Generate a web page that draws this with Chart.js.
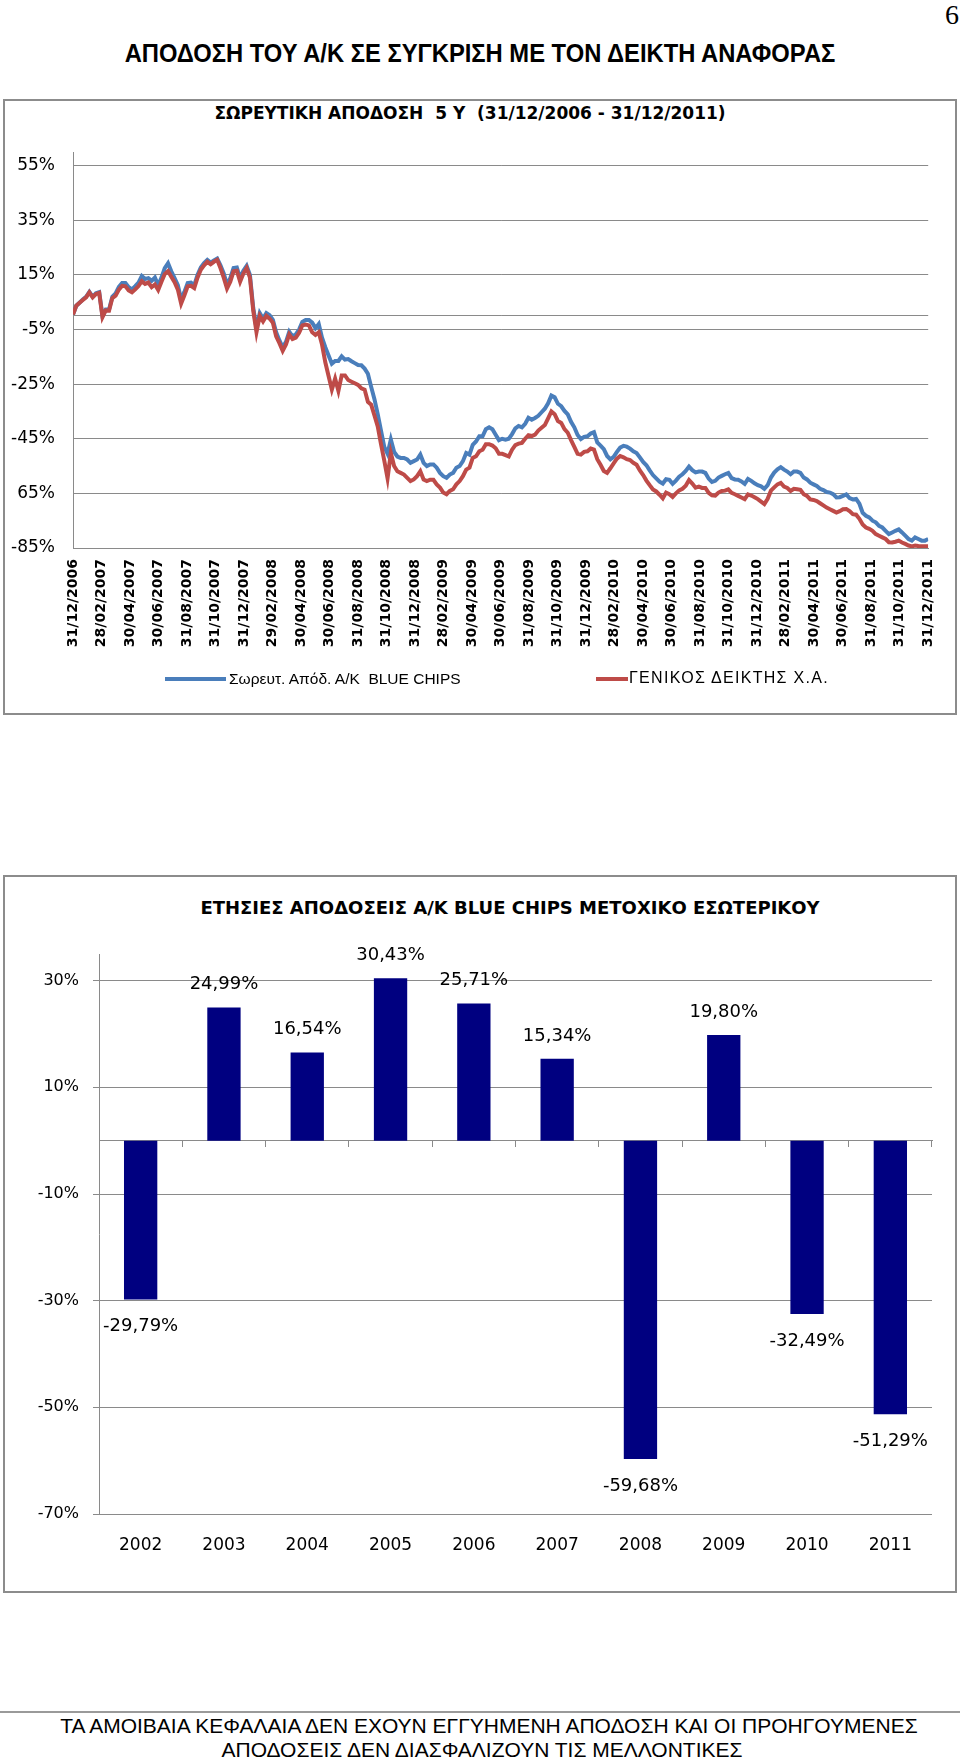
<!DOCTYPE html>
<html><head><meta charset="utf-8">
<script src="https://cdn.jsdelivr.net/npm/chart.js@4.4.1/dist/chart.umd.min.js"></script>
<style>
html,body{margin:0;padding:0;background:#fff;}
body{width:960px;height:1761px;position:relative;overflow:hidden;font-family:"Liberation Sans",Arial,sans-serif;color:#000;}
.abs{position:absolute;white-space:pre;}
.box{position:absolute;border:2px solid #8c8c8c;box-sizing:border-box;}
canvas{position:absolute;}
</style></head>
<body>
<div class="abs" id="pagenum" style="left:945px;top:1px;font-family:'Liberation Serif',serif;font-size:28px;line-height:28px;">6</div>
<div class="abs" style="left:0;width:960px;top:40px;text-align:center;font-weight:bold;font-size:25px;line-height:26px;transform:scaleX(0.95);transform-origin:480px 0;">ΑΠΟΔΟΣΗ ΤΟΥ Α/Κ ΣΕ ΣΥΓΚΡΙΣΗ ΜΕ ΤΟΝ ΔΕΙΚΤΗ ΑΝΑΦΟΡΑΣ</div>

<div class="box" style="left:3px;top:99px;width:954px;height:616px;"></div>
<div class="abs" style="left:0;width:940px;top:104px;text-align:center;font-family:'DejaVu Sans',sans-serif;font-weight:bold;font-size:17px;line-height:18px;">ΣΩΡΕΥΤΙΚΗ ΑΠΟΔΟΣΗ  5 Y  (31/12/2006 - 31/12/2011)</div>
<canvas id="c1" width="952" height="614" style="left:4px;top:100px;"></canvas>
<div class="abs" style="left:165px;top:677px;width:61px;height:4px;background:#4a7ebb;"></div>
<div class="abs" style="left:229px;top:670px;font-size:15.5px;line-height:17px;">Σωρευτ. Απόδ. Α/Κ  BLUE CHIPS</div>
<div class="abs" style="left:596px;top:677px;width:32px;height:4px;background:#be4b48;"></div>
<div class="abs" style="left:629px;top:669px;font-size:16px;line-height:18px;letter-spacing:1.3px;">ΓΕΝΙΚΟΣ ΔΕΙΚΤΗΣ Χ.Α.</div>

<div class="box" style="left:3px;top:875px;width:954px;height:718px;"></div>
<div class="abs" style="left:0;width:1020px;top:898px;text-align:center;font-family:'DejaVu Sans',sans-serif;font-weight:bold;font-size:18px;line-height:19px;">ΕΤΗΣΙΕΣ ΑΠΟΔΟΣΕΙΣ Α/Κ BLUE CHIPS ΜΕΤΟΧΙΚΟ ΕΣΩΤΕΡΙΚΟΥ</div>
<canvas id="c2" width="952" height="716" style="left:4px;top:876px;"></canvas>

<div class="abs" style="left:0;top:1711px;width:960px;height:2px;background:#9a9a9a;"></div>
<div class="abs" style="left:9px;width:960px;top:1715px;text-align:center;font-size:21px;line-height:22px;">ΤΑ ΑΜΟΙΒΑΙΑ ΚΕΦΑΛΑΙΑ ΔΕΝ ΕΧΟΥΝ ΕΓΓΥΗΜΕΝΗ ΑΠΟΔΟΣΗ ΚΑΙ ΟΙ ΠΡΟΗΓΟΥΜΕΝΕΣ</div>
<div class="abs" style="left:2px;width:960px;top:1739px;text-align:center;font-size:21px;line-height:22px;">ΑΠΟΔΟΣΕΙΣ ΔΕΝ ΔΙΑΣΦΑΛΙΖΟΥΝ ΤΙΣ ΜΕΛΛΟΝΤΙΚΕΣ</div>

<script>
// ---- Chart 1 data ----
const dateLabels = ['31/12/2006','28/02/2007','30/04/2007','30/06/2007','31/08/2007','31/10/2007','31/12/2007','29/02/2008','30/04/2008','30/06/2008','31/08/2008','31/10/2008','31/12/2008','28/02/2009','30/04/2009','30/06/2009','31/08/2009','31/10/2009','31/12/2009','28/02/2010','30/04/2010','30/06/2010','31/08/2010','31/10/2010','31/12/2010','28/02/2011','30/04/2011','30/06/2011','31/08/2011','31/10/2011','31/12/2011'];
const yTickValues = [-85,-65,-45,-25,-5,15,35,55];
const yTickLabels = ['-85%','65%','-45%','-25%','-5%','15%','35%','55%'];
const fundLabel = 'Σωρευτ. Απόδ. Α/Κ  BLUE CHIPS';
const indexLabel = 'ΓΕΝΙΚΟΣ ΔΕΙΚΤΗΣ Χ.Α.';
const fundValues = [0.5,3.7,4.8,6.0,7.0,8.8,7.0,8.3,8.7,0.0,
 2.3,2.3,7.0,8.2,10.6,12.0,12.0,10.5,9.7,10.9,
 12.2,14.6,13.5,13.8,12.8,14.0,11.2,14.0,17.5,19.3,
 16.3,13.8,11.2,6.0,8.8,12.0,12.2,11.2,15.0,17.7,
 19.3,20.5,19.5,20.3,21.0,18.5,15.5,11.5,13.8,17.5,
 17.7,13.8,16.5,18.3,15.0,3.0,-4.5,1.0,-1.0,1.0,
 0.2,-1.5,-6.0,-9.0,-11.5,-9.5,-5.8,-7.5,-6.8,-5.0,
 -2.2,-1.5,-1.5,-2.5,-4.5,-3.0,-8.0,-11.5,-14.5,-17.5,
 -16.5,-16.5,-14.8,-16.0,-15.8,-16.6,-17.3,-18.0,-18.1,-19.3,
 -21.2,-26.0,-30.5,-36.0,-42.0,-48.0,-50.5,-45.3,-49.8,-51.5,
 -52.0,-52.0,-52.6,-53.8,-53.2,-52.6,-50.8,-53.8,-55.0,-54.4,
 -54.4,-55.6,-57.5,-58.7,-59.3,-58.1,-57.5,-55.6,-55.0,-53.2,
 -50.2,-50.8,-47.2,-46.0,-44.1,-44.1,-41.5,-40.8,-41.5,-43.5,
 -45.5,-45.0,-45.3,-45.0,-43.3,-41.2,-40.3,-40.8,-39.5,-37.3,
 -38.0,-37.4,-36.6,-35.3,-34.0,-32.0,-29.2,-29.8,-32.2,-33.1,
 -34.8,-36.1,-38.8,-40.8,-43.6,-45.1,-44.3,-44.1,-43.1,-42.6,
 -46.3,-47.5,-48.8,-51.3,-52.5,-51.6,-49.8,-48.2,-47.6,-47.9,
 -48.6,-49.6,-50.2,-51.8,-53.5,-54.7,-56.6,-58.3,-59.5,-60.7,
 -61.4,-59.8,-60.0,-61.5,-60.3,-58.9,-58.0,-56.8,-55.2,-56.5,
 -57.3,-57.0,-57.0,-57.5,-59.6,-60.8,-60.4,-59.2,-58.6,-58.0,
 -57.5,-59.4,-59.9,-60.0,-60.6,-61.5,-59.7,-60.4,-61.3,-62.0,
 -62.4,-63.3,-62.0,-59.2,-57.4,-56.2,-55.4,-56.3,-57.0,-58.0,
 -57.0,-57.0,-57.5,-59.2,-59.9,-61.1,-61.7,-62.3,-63.3,-63.8,
 -64.5,-64.7,-65.3,-66.5,-66.4,-65.9,-65.4,-66.7,-67.2,-67.0,
 -68.8,-72.1,-73.2,-73.8,-75.0,-75.6,-76.9,-77.5,-78.7,-79.9,
 -79.3,-78.7,-78.2,-79.3,-80.5,-81.7,-82.3,-81.1,-81.7,-82.3,
 -82.3,-81.7];
const indexValues = [0.5,3.7,4.8,5.8,6.8,8.6,6.8,8.0,8.4,-0.5,
 2.0,1.9,6.5,7.4,9.6,11.0,10.8,9.3,8.6,9.7,
 10.9,12.7,11.7,12.2,10.5,11.5,9.5,12.5,15.3,16.4,
 14.3,12.3,9.6,4.5,7.5,10.8,11.0,10.2,14.0,16.9,
 18.5,19.8,18.9,19.8,20.5,17.5,14.0,10.0,12.5,16.3,
 16.5,12.5,15.5,17.5,14.0,2.0,-6.0,0.0,-2.0,0.0,
 -1.0,-2.5,-7.5,-10.0,-12.8,-10.5,-6.8,-8.5,-8.0,-6.2,
 -3.5,-3.2,-3.5,-6.0,-7.0,-6.0,-10.5,-17.0,-22.0,-27.0,
 -23.0,-27.5,-21.8,-21.8,-23.5,-24.1,-24.7,-25.3,-26.5,-27.0,
 -31.5,-32.5,-36.5,-40.5,-47.0,-53.0,-59.5,-50.2,-55.0,-56.9,
 -57.5,-58.1,-59.3,-60.5,-59.9,-58.7,-56.9,-59.9,-60.5,-60.0,
 -60.0,-61.7,-62.9,-64.7,-65.3,-64.1,-63.5,-61.7,-60.5,-58.7,
 -56.3,-55.6,-52.0,-51.4,-49.6,-49.0,-47.0,-47.0,-47.5,-48.5,
 -50.5,-50.5,-51.0,-51.5,-49.0,-47.3,-46.8,-46.5,-45.0,-43.7,
 -44.0,-43.5,-42.0,-41.0,-40.0,-37.5,-35.0,-36.0,-38.5,-39.2,
 -41.5,-42.8,-45.5,-48.0,-50.5,-50.8,-49.8,-49.6,-48.6,-49.0,
 -52.5,-54.5,-56.8,-57.5,-55.8,-54.0,-52.3,-51.3,-51.8,-52.5,
 -52.8,-53.8,-54.5,-56.6,-58.3,-60.3,-62.0,-63.6,-64.3,-65.5,
 -66.8,-64.7,-65.3,-66.3,-65.0,-63.9,-63.3,-62.2,-60.1,-61.4,
 -62.9,-62.5,-63.0,-63.0,-64.8,-65.7,-65.8,-64.7,-64.1,-64.0,
 -63.5,-64.8,-65.3,-65.9,-66.5,-67.1,-65.4,-65.8,-66.4,-67.1,
 -68.0,-68.9,-67.0,-64.0,-62.8,-61.7,-61.2,-62.5,-63.0,-64.1,
 -63.3,-63.5,-63.7,-65.3,-65.9,-67.2,-67.4,-67.8,-68.6,-69.4,
 -70.2,-70.8,-71.4,-72.0,-71.5,-70.8,-70.7,-71.5,-72.6,-72.8,
 -74.3,-76.4,-77.5,-78.0,-78.7,-79.9,-80.5,-81.1,-81.7,-82.9,
 -83.0,-82.7,-82.3,-83.0,-83.5,-84.1,-84.4,-84.1,-84.3,-84.4,
 -84.4,-84.4];

// ---- Chart 2 data ----
const years = ['2002','2003','2004','2005','2006','2007','2008','2009','2010','2011'];
const annualReturns = [-29.79,24.99,16.54,30.43,25.71,15.34,-59.68,19.80,-32.49,-51.29];
const barTickValues = [-70,-50,-30,-10,10,30];
const barTickLabels = ['-70%','-50%','-30%','-10%','10%','30%'];

const GRID = '#8a8a8a';
const MONTHS = 60;
const toXY = arr => arr.map((v, k) => ({x: k * MONTHS / (arr.length - 1), y: v}));

new Chart(document.getElementById('c1'), {
  type: 'line',
  data: {datasets: [
    {label: fundLabel, data: toXY(fundValues), borderColor: '#4a7ebb', backgroundColor: '#4a7ebb', borderWidth: 4, pointRadius: 0, tension: 0, order: 1},
    {label: indexLabel, data: toXY(indexValues), borderColor: '#be4b48', backgroundColor: '#be4b48', borderWidth: 4, pointRadius: 0, tension: 0, order: 0}
  ]},
  options: {
    responsive: false, animation: false, devicePixelRatio: 1,
    layout: {padding: {top: 52, right: 14, bottom: 60, left: 0}},
    plugins: {legend: {display: false}, tooltip: {enabled: false}},
    scales: {
      x: {type: 'linear', min: 0, max: MONTHS,
        afterBuildTicks: s => { s.ticks = dateLabels.map((_, i) => ({value: i * 2})); },
        afterFit: s => { s.height = 106; },
        grid: {display: false, drawTicks: false},
        border: {display: true, color: GRID, width: 1},
        ticks: {autoSkip: false, maxRotation: 90, minRotation: 90, padding: 11, color: '#000',
          font: {family: 'DejaVu Sans', size: 14, weight: 'bold'},
          callback: (v, i) => dateLabels[i]}
      },
      y: {type: 'linear', min: -85, max: 60,
        afterBuildTicks: s => { s.ticks = yTickValues.concat([0]).sort((a, b) => a - b).map(v => ({value: v})); },
        afterFit: s => { s.width = 69; },
        grid: {color: GRID, lineWidth: 1, drawTicks: false},
        border: {display: true, color: GRID, width: 1},
        ticks: {padding: 18, color: '#000', font: {family: 'DejaVu Sans', size: 17},
          callback: v => { const i = yTickValues.indexOf(v); return i < 0 ? '' : yTickLabels[i]; }}
      }
    }
  }
});

const fmtPct = v => v.toFixed(2).replace('.', ',') + '%';
const barLabelPlugin = {
  id: 'barLabels',
  afterDatasetsDraw(chart) {
    const ctx = chart.ctx;
    const meta = chart.getDatasetMeta(0);
    ctx.save();
    ctx.font = '18px "DejaVu Sans"';
    ctx.fillStyle = '#000';
    ctx.textAlign = 'center';
    ctx.textBaseline = 'middle';
    meta.data.forEach((bar, i) => {
      const v = annualReturns[i];
      ctx.fillText(fmtPct(v), bar.x, v >= 0 ? bar.y - 23 : bar.y + 27);
    });
    ctx.restore();
  }
};

new Chart(document.getElementById('c2'), {
  type: 'bar',
  data: {labels: years, datasets: [{data: annualReturns, backgroundColor: '#000080', barPercentage: 0.4, categoryPercentage: 1.0}]},
  options: {
    responsive: false, animation: false, devicePixelRatio: 1,
    layout: {padding: {top: 78, right: 24, bottom: 20, left: 0}},
    plugins: {legend: {display: false}, tooltip: {enabled: false}},
    scales: {
      x: {type: 'category', grid: {display: false, drawTicks: false}, border: {display: false},
        afterFit: s => { s.height = 58; },
        ticks: {padding: 21, color: '#000', maxRotation: 0, autoSkip: false, font: {family: 'DejaVu Sans', size: 17}}
      },
      x2: {type: 'category', labels: years, position: {y: 0}, offset: true,
        grid: {display: true, drawOnChartArea: false, drawTicks: true, tickLength: 6, color: GRID, offset: true},
        border: {display: true, color: GRID},
        ticks: {display: false},
        afterFit: s => { s.height = 0; }
      },
      y: {min: -70, max: 35,
        afterBuildTicks: s => { s.ticks = barTickValues.map(v => ({value: v})); },
        afterFit: s => { s.width = 95; },
        grid: {color: GRID, drawTicks: true, tickLength: 6},
        border: {display: true, color: GRID},
        ticks: {padding: 14, color: '#000', font: {family: 'DejaVu Sans', size: 16},
          callback: v => barTickLabels[barTickValues.indexOf(v)]}
      }
    }
  },
  plugins: [barLabelPlugin]
});
</script>
</body></html>
